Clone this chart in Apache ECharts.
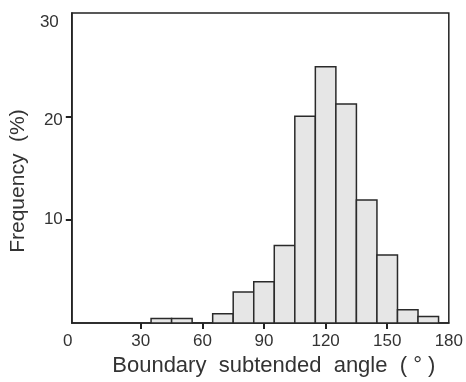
<!DOCTYPE html>
<html>
<head>
<meta charset="utf-8">
<script src="https://cdn.jsdelivr.net/npm/echarts@6/dist/echarts.min.js"></script>
<style>
html,body{margin:0;padding:0;background:#fff;}
#chart{width:466px;height:382px;}
</style>
</head>
<body>
<div id="chart"></div>
<script>
// Histogram bins (degrees): lower edges, bin width 10
var binStart = [35, 45, 55, 65, 75, 85, 95, 105, 115, 125, 135, 145, 155, 165];
var binWidth = 10;
// Frequency (%)
var frequency = [0.45, 0.45, 0, 0.9, 3.0, 4.0, 7.5, 20.0, 24.8, 21.2, 11.9, 6.6, 1.3, 0.65];
// Tick labels
var xTicks = [0, 30, 60, 90, 120, 150, 180];
var yTicks = [10, 20, 30];
var xTitle = 'Boundary  subtended  angle  ( ° )';
var yTitle = 'Frequency  (%)';

var data = binStart.map(function (s, i) { return [s, s + binWidth, frequency[i]]; });

var chart = echarts.init(document.getElementById('chart'), null, {renderer: 'canvas'});
var font = 'Liberation Sans, Arial, Helvetica, sans-serif';
var txt = '#333';
chart.setOption({
  animation: false,
  backgroundColor: '#fff',
  grid: {left: 71, right: 16, top: 13, bottom: 57, show: true, borderColor: '#222', borderWidth: 1.5, backgroundColor: 'transparent'},
  xAxis: {
    type: 'value', min: -3.6, max: 180,
    name: xTitle, nameLocation: 'middle', nameGap: 31,
    nameTextStyle: {fontFamily: font, fontSize: 22, color: txt, padding: [0, 0, 0, 27]},
    splitLine: {show: false},
    axisLine: {show: true, onZero: false, lineStyle: {color: '#222', width: 1.5}},
    axisTick: {show: true, inside: false, length: 6, customValues: [30, 60, 90, 120, 150], lineStyle: {color: '#222', width: 2}},
    axisLabel: {
      customValues: xTicks, margin: 10, fontFamily: font, fontSize: 17, color: txt,
      formatter: function (v) { return v === 0 ? '{z|0}' : String(v); },
      rich: {z: {fontFamily: font, fontSize: 17, color: txt, padding: [0, 23, 0, 0]}}
    }
  },
  yAxis: {
    type: 'value', min: 0, max: 30,
    name: yTitle, nameLocation: 'middle', nameGap: 35, nameRotate: 90,
    nameTextStyle: {fontFamily: font, fontSize: 21, color: txt, padding: [0, 26, 0, 0]},
    splitLine: {show: false},
    axisLine: {show: true, onZero: false, lineStyle: {color: '#222', width: 1.5}},
    axisTick: {show: true, inside: false, length: 6, customValues: [10, 20], lineStyle: {color: '#222', width: 2}},
    axisLabel: {
      customValues: yTicks, margin: 9, fontFamily: font, fontSize: 17, color: txt,
      formatter: function (v) {
        if (v === 30) return '{a|30}';
        if (v === 20) return '{b|20}';
        return String(v);
      },
      rich: {
        a: {fontFamily: font, fontSize: 17, color: txt, padding: [18, 4, 0, 0]},
        b: {fontFamily: font, fontSize: 17, color: txt, padding: [8, 0, 0, 0]}
      }
    }
  },
  series: [{
    type: 'custom',
    data: data,
    encode: {x: [0, 1], y: 2},
    renderItem: function (params, api) {
      var v = api.value(2);
      if (!v) return null;
      var p0 = api.coord([api.value(0), v]);
      var p1 = api.coord([api.value(1), 0]);
      return {
        type: 'rect',
        shape: {x: p0[0], y: p0[1], width: p1[0] - p0[0], height: p1[1] - p0[1]},
        style: {fill: '#e6e6e6', stroke: '#2a2a2a', lineWidth: 1.5}
      };
    }
  }]
});
</script>
</body>
</html>
